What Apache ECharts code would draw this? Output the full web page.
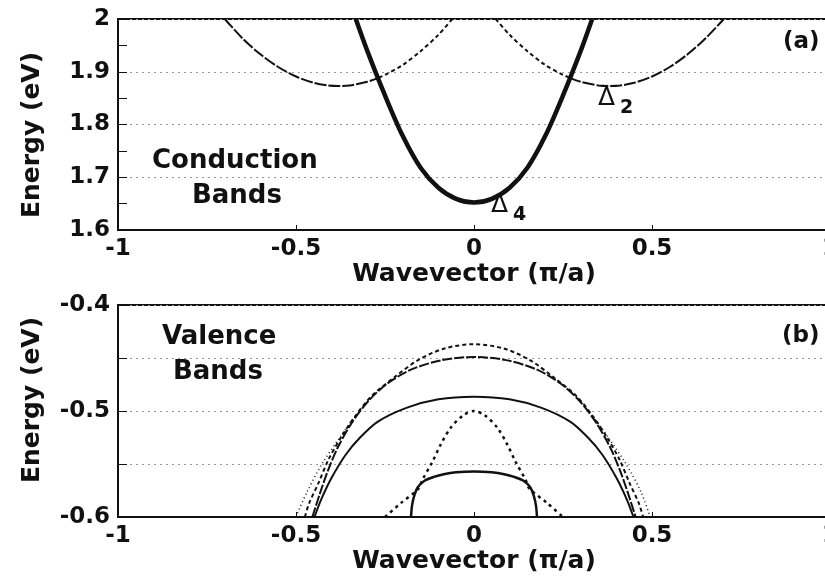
<!DOCTYPE html>
<html>
<head>
<meta charset="utf-8">
<script src="https://cdn.jsdelivr.net/npm/echarts@6/dist/echarts.min.js"></script>
<style>
  html, body { margin: 0; padding: 0; background: #fff; }
  #chart { width: 825px; height: 576px; }
</style>
</head>
<body>
<div id="chart"></div>
<script>
// x ticks shared by both panels
var xTicks = [-1, -0.5, 0, 0.5, 1];

// (a) conduction bands, [wavevector, energy]
var delta4 = [[-0.332, 2.0], [-0.3, 1.94], [-0.25, 1.855], [-0.2, 1.778], [-0.15, 1.718], [-0.1, 1.68],
  [-0.05, 1.659], [0, 1.652], [0.05, 1.659], [0.1, 1.68], [0.15, 1.718], [0.2, 1.778], [0.25, 1.855],
  [0.3, 1.94], [0.332, 2.0]];
var delta2LeftOuter = [[-0.7, 2.0], [-0.65, 1.963], [-0.6, 1.933], [-0.55, 1.909], [-0.5, 1.891],
  [-0.45, 1.879], [-0.41, 1.874], [-0.38, 1.873], [-0.35, 1.874], [-0.3, 1.881], [-0.268, 1.889]];
var delta2LeftInner = [[-0.268, 1.889], [-0.25, 1.894], [-0.2, 1.913], [-0.15, 1.939], [-0.1, 1.97], [-0.061, 2.0]];
var delta2RightInner = [[0.061, 2.0], [0.1, 1.97], [0.15, 1.939], [0.2, 1.913], [0.25, 1.894], [0.268, 1.889]];
var delta2RightOuter = [[0.268, 1.889], [0.3, 1.881], [0.35, 1.874], [0.38, 1.873], [0.41, 1.874],
  [0.45, 1.879], [0.5, 1.891], [0.55, 1.909], [0.6, 1.933], [0.65, 1.963], [0.702, 2.0]];

// (b) valence bands
var vb1 = [[-0.475, -0.6], [-0.463, -0.587], [-0.437, -0.568], [-0.409, -0.546], [-0.372, -0.524],
  [-0.334, -0.505], [-0.288, -0.486], [-0.223, -0.468], [-0.157, -0.452], [-0.083, -0.441], [0, -0.437],
  [0.083, -0.441], [0.157, -0.452], [0.223, -0.468], [0.288, -0.486], [0.334, -0.505], [0.372, -0.524],
  [0.409, -0.546], [0.437, -0.568], [0.463, -0.587], [0.475, -0.6]];
var vb1OuterLeft = [[-0.334, -0.505], [-0.375, -0.524], [-0.427, -0.55], [-0.47, -0.577], [-0.5, -0.6]];
var vb1OuterRight = [[0.334, -0.505], [0.375, -0.524], [0.427, -0.55], [0.47, -0.577], [0.495, -0.6]];
var vb2 = [[-0.454, -0.6], [-0.433, -0.578], [-0.41, -0.556], [-0.382, -0.534], [-0.344, -0.5115],
  [-0.298, -0.491], [-0.245, -0.4745], [-0.177, -0.461], [-0.09, -0.452], [0, -0.449], [0.09, -0.452],
  [0.177, -0.461], [0.245, -0.4745], [0.298, -0.491], [0.344, -0.5115], [0.382, -0.534], [0.41, -0.556],
  [0.433, -0.578], [0.454, -0.6]];
var vb3 = [[-0.448, -0.6], [-0.43, -0.584], [-0.4, -0.563], [-0.36, -0.541], [-0.32, -0.525],
  [-0.27, -0.51], [-0.19, -0.497], [-0.1, -0.489], [0, -0.4865], [0.1, -0.489], [0.19, -0.497],
  [0.27, -0.51], [0.32, -0.525], [0.36, -0.541], [0.4, -0.563], [0.43, -0.584], [0.448, -0.6]];
var vb4 = [[-0.25, -0.6], [-0.206, -0.587], [-0.155, -0.573], [-0.145, -0.565], [-0.117, -0.548],
  [-0.094, -0.532], [-0.066, -0.516], [-0.03, -0.504], [0, -0.5], [0.03, -0.504], [0.066, -0.516],
  [0.094, -0.532], [0.117, -0.548], [0.145, -0.565], [0.155, -0.573], [0.206, -0.587], [0.25, -0.6]];
var vb5 = [[-0.177, -0.6], [-0.174, -0.589], [-0.168, -0.58], [-0.158, -0.572], [-0.14, -0.566],
  [-0.113, -0.5622], [-0.085, -0.5596], [-0.05, -0.5578], [0, -0.557], [0.05, -0.5578], [0.085, -0.5596],
  [0.113, -0.5622], [0.14, -0.566], [0.158, -0.572], [0.168, -0.58], [0.174, -0.589], [0.177, -0.6]];

var FONT = 'DejaVu Sans';
var INK = '#111';

function band(data, idx, width, type) {
  return {
    type: 'line', xAxisIndex: idx, yAxisIndex: idx, data: data,
    symbol: 'none', smooth: 0.3, silent: true,
    lineStyle: { color: INK, width: width, type: type }
  };
}

function xAxisFor(idx) {
  return {
    type: 'value', gridIndex: idx, min: xTicks[0], max: xTicks[xTicks.length - 1], interval: 0.5,
    axisLine: { show: true, onZero: false, lineStyle: { color: INK, width: 2 } },
    axisTick: { show: true, inside: true, length: 5, lineStyle: { color: INK } },
    axisLabel: { fontFamily: FONT, fontWeight: 'bold', fontSize: 23, color: INK, margin: 8 },
    splitLine: { show: false },
    name: 'Wavevector (\u03c0/a)', nameLocation: 'middle', nameGap: 30,
    nameTextStyle: { fontFamily: FONT, fontWeight: 'bold', fontSize: 25, color: INK }
  };
}

var gridLine = { show: true, lineStyle: { color: '#999', width: 1, type: [2, 4] } };

// rotated y-axis title
function yTitle(cx, cy) {
  return {
    type: 'text', x: cx, y: cy, rotation: Math.PI / 2,
    style: { text: 'Energy (eV)', font: 'bold 25px "DejaVu Sans"', fill: INK, align: 'center', verticalAlign: 'middle' }
  };
}

var option = {
  animation: false,
  backgroundColor: '#fff',
  grid: [
    { left: 118, top: 19, width: 712, height: 211, show: true, borderColor: INK, borderWidth: 2, outerBoundsMode: 'none' },
    { left: 118, top: 305, width: 712, height: 212, show: true, borderColor: INK, borderWidth: 2, outerBoundsMode: 'none' }
  ],
  xAxis: [xAxisFor(0), xAxisFor(1)],
  yAxis: [
    {
      type: 'value', gridIndex: 0, min: 1.6, max: 2, interval: 0.1,
      axisLine: { show: true, onZero: false, lineStyle: { color: INK, width: 2 } },
      axisTick: { show: true, inside: true, length: 9, lineStyle: { color: INK } },
      minorTick: { show: true, splitNumber: 2, length: 9, lineStyle: { color: INK } },
      axisLabel: { fontFamily: FONT, fontWeight: 'bold', fontSize: 23, color: INK, margin: 8 },
      splitLine: gridLine
    },
    {
      type: 'value', gridIndex: 1, min: -0.6, max: -0.4, interval: 0.05,
      axisLine: { show: true, onZero: false, lineStyle: { color: INK, width: 2 } },
      axisTick: { show: true, inside: true, length: 9, lineStyle: { color: INK } },
      axisLabel: {
        fontFamily: FONT, fontWeight: 'bold', fontSize: 23, color: INK, margin: 8,
        formatter: function (v) { return Math.round(v * 100) % 10 === 0 ? v.toFixed(1) : ''; }
      },
      splitLine: gridLine
    }
  ],
  series: [
    band(delta4, 0, 4.5, 'solid'),
    band(delta2LeftOuter, 0, 2, [12, 2]),
    band(delta2LeftInner, 0, 2, [4, 3]),
    band(delta2RightInner, 0, 2, [4, 3]),
    band(delta2RightOuter, 0, 2, [12, 2]),
    band(vb1, 1, 2, [4, 3]),
    band(vb1OuterLeft, 1, 1.5, [1, 3]),
    band(vb1OuterRight, 1, 1.5, [1, 3]),
    band(vb2, 1, 2, [10, 2]),
    band(vb3, 1, 2, 'solid'),
    band(vb4, 1, 2.5, [3, 4]),
    band(vb5, 1, 2.5, 'solid')
  ],
  graphic: [
    yTitle(32, 135),
    yTitle(32, 400),
    { type: 'text', left: 783, top: 31, style: { text: '(a)', font: 'bold 23px "DejaVu Sans"', fill: INK } },
    { type: 'text', left: 782, top: 325, style: { text: '(b)', font: 'bold 23px "DejaVu Sans"', fill: INK } },
    { type: 'text', left: 152, top: 148, style: { text: 'Conduction', font: 'bold 26px "DejaVu Sans"', fill: INK } },
    { type: 'text', left: 192, top: 183, style: { text: 'Bands', font: 'bold 26px "DejaVu Sans"', fill: INK } },
    { type: 'text', left: 162, top: 324, style: { text: 'Valence', font: 'bold 26px "DejaVu Sans"', fill: INK } },
    { type: 'text', left: 173, top: 359, style: { text: 'Bands', font: 'bold 26px "DejaVu Sans"', fill: INK } },
    { type: 'text', left: 598, top: 86, style: { text: '\u0394', font: '25px "DejaVu Sans"', fill: INK } },
    { type: 'text', left: 620, top: 99, style: { text: '2', font: 'bold 19px "DejaVu Sans"', fill: INK } },
    { type: 'text', left: 491, top: 193, style: { text: '\u0394', font: '25px "DejaVu Sans"', fill: INK } },
    { type: 'text', left: 513, top: 206, style: { text: '4', font: 'bold 19px "DejaVu Sans"', fill: INK } }
  ]
};

var myChart = echarts.init(document.getElementById('chart'));
myChart.setOption(option);
</script>
</body>
</html>
